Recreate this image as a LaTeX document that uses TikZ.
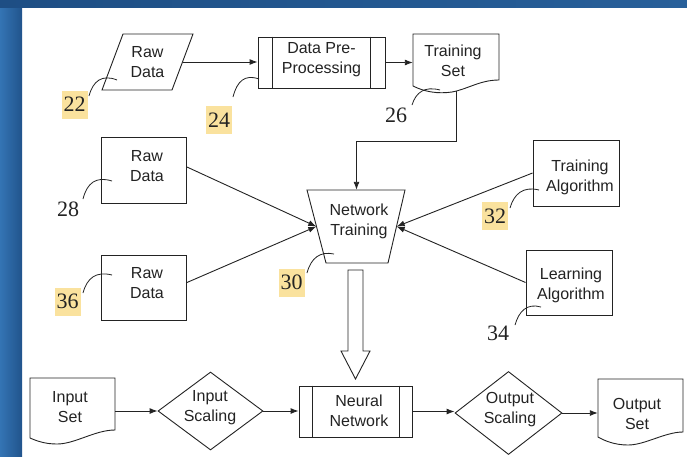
\documentclass[tikz,border=0pt]{standalone}
\usepackage{fontspec}
\setmainfont{Liberation Sans}
\newfontfamily\numfont{Liberation Serif}
\usetikzlibrary{arrows.meta,calc,shapes.geometric}
\definecolor{ink}{RGB}{35,35,35}
\definecolor{hiyellow}{RGB}{250,226,158}
\definecolor{frameA}{RGB}{52,116,180}
\definecolor{frameB}{RGB}{33,84,140}
\definecolor{frameC}{RGB}{30,78,132}
\definecolor{frameD}{RGB}{40,96,154}
\tikzset{
  outline/.style={draw=ink, line width=0.9pt, line join=miter},
  spot/.style={rectangle, inner sep=0pt, draw=none},
  box/.style={rectangle, inner sep=0pt, draw=ink, line width=0.9pt},
  decision/.style={diamond, inner sep=0pt, draw=ink, line width=0.9pt},
  lbl/.style={font=\fontsize{16}{20}\selectfont, align=center, inner sep=0pt, text=ink},
  num/.style={font=\numfont\fontsize{22}{22}\selectfont, inner sep=0pt, text=ink},
  hinum/.style={num, fill=hiyellow, minimum width=26pt, minimum height=28pt},
  lead/.style={draw=ink, line width=0.8pt},
  flow/.style={draw=ink, line width=0.9pt, -{Latex[length=8pt,width=6pt]}}
}
\begin{document}
\begin{tikzpicture}[x=1pt,y=-1pt]
\useasboundingbox (0,0) rectangle (687,456);
\fill[white] (0,0) rectangle (687,456);
% slide frame
\shade[left color=frameA, right color=frameB] (0,0) rectangle (22,456);
\shade[left color=frameC, right color=frameD] (0,0) rectangle (687,7);

% ---------- top row ----------
\draw[outline] (102,90) -- (123,34) -- (193,34) -- (172,90) -- cycle;
\node[spot, lbl, minimum width=70pt, minimum height=56pt] (raw1) at (147.5,62) {Raw\\Data};

\node[box, minimum width=127pt, minimum height=51pt] (pre) at (321.5,62.5) {};
\draw[outline] ($(pre.north west)+(15,0)$) -- ($(pre.south west)+(15,0)$)
               ($(pre.north east)+(-15,0)$) -- ($(pre.south east)+(-15,0)$);
\node[lbl] (pret) at (321.5,60) {Data Pre-\\Processing};

\draw[outline] (413,34) -- (499,34) -- (499,80)
  .. controls (480,80) and (468,89) .. (452,92)
  .. controls (438,94) and (425,92) .. (413,86) -- cycle;
\node[spot, minimum width=86pt, minimum height=57pt] (ts) at (456,62.5) {};
\node[lbl] (tst) at (453,61) {Training\\Set};

\draw[flow] (raw1.east) -- (raw1.east -| pre.west);
\draw[flow] (pre.east) -- (pre.east -| ts.west);

% ---------- middle row ----------
\node[box, minimum width=85pt, minimum height=66pt] (raw2) at (144,170) {};
\node[lbl] (raw2t) at (147,166.5) {Raw\\Data};
\node[box, minimum width=85pt, minimum height=65pt] (raw3) at (144,287.5) {};
\node[lbl] (raw3t) at (147,283) {Raw\\Data};

\draw[outline] (307,190) -- (405,190) -- (388,263) -- (326,263) -- cycle;
\node[spot, minimum width=80pt, minimum height=73pt] (nt) at (356.5,226.5) {};
\node[lbl] (ntt) at (359,221) {Network\\Training};

\node[box, minimum width=86pt, minimum height=66pt] (ta) at (576,173) {};
\node[lbl] (tat) at (580,177) {Training\\Algorithm};
\node[box, minimum width=86pt, minimum height=65pt] (la) at (569,282.5) {};
\node[lbl] (lat) at (571,285.5) {Learning\\Algorithm};

\draw[flow] (ts.south) -- ++(0,50) -| (nt.north);
\draw[flow] ([yshift=3pt]raw2.east) -- (nt.west);
\draw[flow] ([yshift=5pt]raw3.east) -- (nt.west);
\draw[flow] (ta.west) -- (nt.east);
\draw[flow] (la.west) -- (nt.east);

% hollow arrow from training to the network
\draw[outline] (348,270) -- (363,270) -- (363,351) -- (370,351)
  -- (355.5,379) -- (341,351) -- (348,351) -- cycle;

% ---------- bottom row ----------
\draw[outline] (30,378) -- (115,378) -- (115,430)
  .. controls (95,430) and (75,444) .. (57,444)
  .. controls (45,444) and (37,441) .. (30,438) -- cycle;
\node[spot, minimum width=85pt, minimum height=66pt] (inset) at (72.5,411) {};
\node[lbl] (insett) at (70,407) {Input\\Set};

\node[decision, minimum width=105pt, minimum height=78pt] (isc) at (210.5,411) {};
\node[lbl] (isct) at (210,407.5) {Input\\Scaling};

\node[box, minimum width=113pt, minimum height=51pt] (nn) at (355.5,411.5) {};
\draw[outline] ($(nn.north west)+(14,0)$) -- ($(nn.south west)+(14,0)$)
               ($(nn.north east)+(-13,0)$) -- ($(nn.south east)+(-13,0)$);
\node[lbl] (nnt) at (359,410.5) {Neural\\Network};

\node[decision, minimum width=107pt, minimum height=83pt] (osc) at (508.5,413) {};
\node[lbl] (osct) at (510,409.5) {Output\\Scaling};

\draw[outline] (598,379) -- (683,379) -- (683,432)
  .. controls (665,432) and (645,445) .. (628,445)
  .. controls (615,445) and (605,441) .. (598,437) -- cycle;
\node[spot, minimum width=85pt, minimum height=68pt] (outset) at (640.5,413) {};
\node[lbl] (outsett) at (637,414) {Output\\Set};

\draw[flow] (inset.east) -- (isc.west);
\draw[flow] (isc.east) -- (isc.east -| nn.west);
\draw[flow] (nn.east) -- (nn.east -| osc.west);
\draw[flow] (osc.east) -- (outset.west);

% ---------- reference numerals ----------
\node[hinum] (n22) at (74.5,104.5) {22};
\node[hinum] (n24) at (219,120) {24};
\node[num] (n26) at (396,115) {26};
\node[num] (n28) at (68,209) {28};
\node[hinum] (n36) at (67.5,301.5) {36};
\node[hinum] (n30) at (291.5,282.5) {30};
\node[hinum] (n32) at (495,216) {32};
\node[num] (n34) at (498,333) {34};

\draw[lead] (89,96) .. controls (93,81) and (102,74) .. (117,80);
\draw[lead] (233,97) .. controls (237,81) and (245,74) .. (259,79);
\draw[lead] (412,105) .. controls (416,92) and (425,86) .. (440,90);
\draw[lead] (83,199) .. controls (87,183) and (96,176) .. (112,181);
\draw[lead] (83,293) .. controls (87,278) and (96,271) .. (112,275);
\draw[lead] (307,273) .. controls (311,258) and (320,251) .. (334,254);
\draw[lead] (510,208) .. controls (514,194) and (523,186) .. (539,190);
\draw[lead] (515,325) .. controls (519,311) and (527,303) .. (541,307);
\end{tikzpicture}
\end{document}
